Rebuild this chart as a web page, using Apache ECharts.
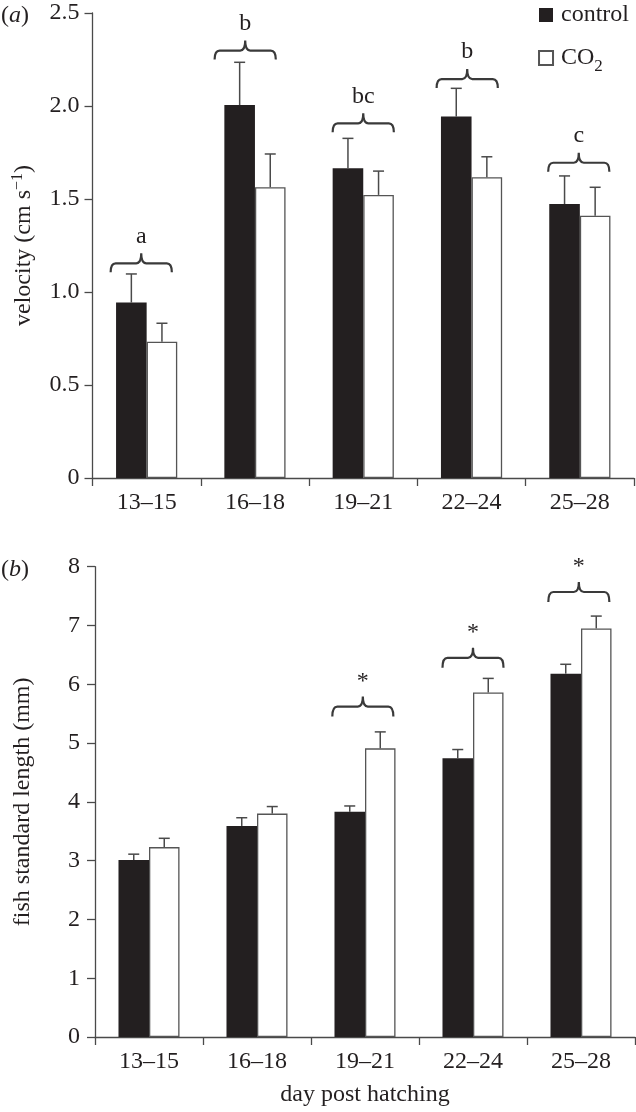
<!DOCTYPE html>
<html><head><meta charset="utf-8">
<script src="https://cdn.jsdelivr.net/npm/echarts@6/dist/echarts.min.js"></script>
<style>html,body{margin:0;padding:0;background:#fff}#chart{width:636px;height:1112px}</style>
</head><body><div id="chart"></div>
<script>
const categories = ['13–15', '16–18', '19–21', '22–24', '25–28'];

const velocityControl = [0.943, 2.005, 1.665, 1.943, 1.473];
const velocityControlSE = [0.154, 0.230, 0.161, 0.152, 0.151];
const velocityCO2 = [0.733, 1.563, 1.522, 1.617, 1.410];
const velocityCO2SE = [0.099, 0.179, 0.128, 0.110, 0.153];
const velocityBracket = [1.154, 2.298, 1.907, 2.145, 1.695];
const velocityBracketShift = [-0.05, -0.09, 0, -0.04, -0.01];
const velocityLetters = ['a', 'b', 'bc', 'b', 'c'];
const velocityTicks = [0, 0.5, 1.0, 1.5, 2.0, 2.5];

const lengthControl = [3.01, 3.59, 3.83, 4.74, 6.18];
const lengthControlSE = [0.10, 0.14, 0.10, 0.15, 0.16];
const lengthCO2 = [3.23, 3.80, 4.91, 5.86, 6.95];
const lengthCO2SE = [0.15, 0.12, 0.28, 0.24, 0.21];
const lengthBracket = [null, null, 5.62, 6.45, 7.57];
const lengthBracketShift = [0, 0, -0.02, 0, -0.02];
const lengthMarks = ['', '', '*', '*', '*'];
const lengthTicks = [0, 1, 2, 3, 4, 5, 6, 7, 8];

const FONT = '"Liberation Serif", "DejaVu Serif", serif';
const TXT = '#231f20';
const AXIS = '#4a4a4a';
const GAP = 0.435;

function errorRender(side) {
  return function (params, api) {
    const i = api.value(0), v = api.value(1), e = api.value(2);
    const band = api.size([1, 0])[0];
    const bw = band * (1 - GAP) / 2;
    const base = api.coord([i, v]);
    const top = api.coord([i, v + e]);
    const x = base[0] + side * bw / 2;
    const cap = 5.5;
    const st = { stroke: AXIS, lineWidth: 1.5 };
    return { type: 'group', children: [
      { type: 'line', shape: { x1: x, y1: base[1], x2: x, y2: top[1] }, style: st },
      { type: 'line', shape: { x1: x - cap, y1: top[1], x2: x + cap, y2: top[1] }, style: st }
    ] };
  };
}

function bracketRender(labels, drop, spike, textGap) {
  return function (params, api) {
    const i = api.value(0), lvl = api.value(1), sh = api.value(2);
    const band = api.size([1, 0])[0];
    const half = band * (1 - GAP) / 2;
    const p = api.coord([i, lvl]);
    const xc = p[0] + sh * band, y = p[1];
    const x1 = xc - half, x2 = xc + half, r = 5;
    const d = 'M' + x1 + ' ' + (y + drop) + ' Q' + x1 + ' ' + y + ' ' + (x1 + r) + ' ' + y +
      ' L' + (xc - r) + ' ' + y + ' Q' + xc + ' ' + y + ' ' + xc + ' ' + (y - spike) +
      ' Q' + xc + ' ' + y + ' ' + (xc + r) + ' ' + y +
      ' L' + (x2 - r) + ' ' + y + ' Q' + x2 + ' ' + y + ' ' + x2 + ' ' + (y + drop);
    return { type: 'group', children: [
      { type: 'path', shape: { pathData: d }, style: { fill: 'none', stroke: '#3a3a3a', lineWidth: 2.2 } },
      { type: 'text', style: { text: labels[i], x: xc, y: y - textGap, align: 'center', verticalAlign: 'middle',
        fontSize: 24, fontFamily: FONT, fill: TXT } }
    ] };
  };
}

function rows(vals, se) { return categories.map((c, i) => [i, vals[i], se[i]]); }
function bracketRows(lv, sh) {
  const out = [];
  lv.forEach((v, i) => { if (v != null) out.push([i, v, sh[i]]); });
  return out;
}

const xAxisBase = {
  type: 'category', data: categories, boundaryGap: true,
  axisLine: { lineStyle: { color: AXIS, width: 1.3 } },
  axisTick: { show: true, length: 8, lineStyle: { color: AXIS, width: 1.3 } },
  axisLabel: { fontFamily: FONT, fontSize: 24, color: TXT, margin: 13 },
  splitLine: { show: false }
};
const yAxisBase = {
  type: 'value',
  axisLine: { show: true, lineStyle: { color: AXIS, width: 1.3 } },
  axisTick: { show: true, length: 8, lineStyle: { color: AXIS, width: 1.3 } },
  splitLine: { show: false },
  nameLocation: 'middle', nameRotate: 90,
  nameTextStyle: { fontFamily: FONT, fontSize: 24, color: TXT,
    rich: { sup: { fontFamily: FONT, fontSize: 16, color: TXT, padding: [0, 0, 12, 0] } } }
};

const chart = echarts.init(document.getElementById('chart'), null, { renderer: 'canvas' });
chart.setOption({
  animation: false,
  backgroundColor: '#fff',
  grid: [
    { left: 92.5, top: 13, width: 541.5, height: 465 },
    { left: 95, top: 566.7, width: 540, height: 470.3 }
  ],
  legend: {
    data: ['control', 'CO2'], orient: 'vertical', right: 7, top: 3, padding: 0,
    itemWidth: 14, itemHeight: 14, itemGap: 19, icon: 'rect',
    textStyle: { fontFamily: FONT, fontSize: 24, color: TXT, padding: [0, 0, 0, 3],
      rich: {
        n: { fontFamily: FONT, fontSize: 24, color: TXT },
        s: { fontFamily: FONT, fontSize: 17, color: TXT, padding: [18, 0, 0, 0] }
      } },
    formatter: name => name === 'CO2' ? '{n|CO}{s|2}' : '{n|' + name + '}'
  },
  graphic: [
    { type: 'text', left: 1, top: 4, style: { text: '({i|a})', fontFamily: FONT, fontSize: 24, fill: TXT,
      rich: { i: { fontFamily: FONT, fontSize: 24, fontStyle: 'italic', fill: TXT } } } },
    { type: 'text', left: 1, top: 558, style: { text: '({i|b})', fontFamily: FONT, fontSize: 24, fill: TXT,
      rich: { i: { fontFamily: FONT, fontSize: 24, fontStyle: 'italic', fill: TXT } } } }
  ],
  xAxis: [
    Object.assign({}, xAxisBase, { gridIndex: 0 }),
    Object.assign({}, xAxisBase, { gridIndex: 1, name: 'day post hatching', nameLocation: 'middle', nameGap: 46,
      nameTextStyle: { fontFamily: FONT, fontSize: 24, color: TXT } })
  ],
  yAxis: [
    Object.assign({}, yAxisBase, { gridIndex: 0, min: velocityTicks[0], max: velocityTicks[velocityTicks.length - 1],
      interval: velocityTicks[1] - velocityTicks[0], name: 'velocity (cm s{sup|−1})', nameGap: 55,
      axisLabel: { fontFamily: FONT, fontSize: 24, color: TXT, margin: 13,
        formatter: v => v === 0 ? '0' : v.toFixed(1) } }),
    Object.assign({}, yAxisBase, { gridIndex: 1, min: lengthTicks[0], max: lengthTicks[lengthTicks.length - 1],
      interval: lengthTicks[1] - lengthTicks[0], name: 'fish standard length (mm)', nameGap: 60,
      axisLabel: { fontFamily: FONT, fontSize: 24, color: TXT, margin: 15 } })
  ],
  series: [
    { name: 'control', type: 'bar', xAxisIndex: 0, yAxisIndex: 0, data: velocityControl,
      barGap: '0%', barCategoryGap: (GAP * 100) + '%', itemStyle: { color: '#231f20' } },
    { name: 'CO2', type: 'bar', xAxisIndex: 0, yAxisIndex: 0, data: velocityCO2,
      itemStyle: { color: '#ffffff', borderColor: '#555', borderWidth: 1.3 } },
    { name: 'control', type: 'bar', xAxisIndex: 1, yAxisIndex: 1, data: lengthControl,
      barGap: '0%', barCategoryGap: (GAP * 100) + '%', itemStyle: { color: '#231f20' } },
    { name: 'CO2', type: 'bar', xAxisIndex: 1, yAxisIndex: 1, data: lengthCO2,
      itemStyle: { color: '#ffffff', borderColor: '#555', borderWidth: 1.3 } },
    { type: 'custom', xAxisIndex: 0, yAxisIndex: 0, clip: false, z: 5,
      renderItem: errorRender(-1), data: rows(velocityControl, velocityControlSE) },
    { type: 'custom', xAxisIndex: 0, yAxisIndex: 0, clip: false, z: 5,
      renderItem: errorRender(1), data: rows(velocityCO2, velocityCO2SE) },
    { type: 'custom', xAxisIndex: 1, yAxisIndex: 1, clip: false, z: 5,
      renderItem: errorRender(-1), data: rows(lengthControl, lengthControlSE) },
    { type: 'custom', xAxisIndex: 1, yAxisIndex: 1, clip: false, z: 5,
      renderItem: errorRender(1), data: rows(lengthCO2, lengthCO2SE) },
    { type: 'custom', xAxisIndex: 0, yAxisIndex: 0, clip: false, z: 5,
      renderItem: bracketRender(velocityLetters, 9, 10, 27), data: bracketRows(velocityBracket, velocityBracketShift) },
    { type: 'custom', xAxisIndex: 1, yAxisIndex: 1, clip: false, z: 5,
      renderItem: bracketRender(lengthMarks, 10, 10, 25), data: bracketRows(lengthBracket, lengthBracketShift) }
  ]
});
</script>
</body></html>
